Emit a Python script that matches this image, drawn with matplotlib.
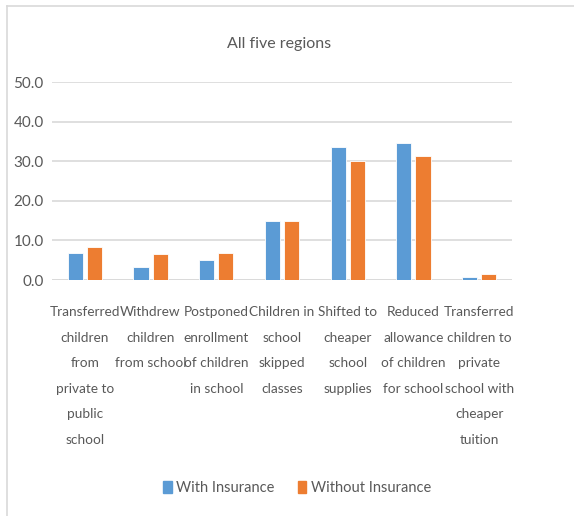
import matplotlib
matplotlib.use("Agg")
import matplotlib.pyplot as plt
import numpy as np
from matplotlib.lines import Line2D

categories = [
    "Transferred\nchildren\nfrom\nprivate to\npublic\nschool",
    "Withdrew\nchildren\nfrom school",
    "Postponed\nenrollment\nof children\nin school",
    "Children in\nschool\nskipped\nclasses",
    "Shifted to\ncheaper\nschool\nsupplies",
    "Reduced\nallowance\nof children\nfor school",
    "Transferred\nchildren to\nprivate\nschool with\ncheaper\ntuition",
]
with_insurance = [6.9, 3.4, 5.0, 15.0, 33.6, 34.5, 0.7]
without_insurance = [8.4, 6.6, 6.9, 15.0, 30.0, 31.2, 1.6]
series_names = ["With Insurance", "Without Insurance"]
y_ticks = [0, 10, 20, 30, 40, 50]

BLUE = "#5B9BD5"
ORANGE = "#ED7D31"
TEXT = "#595959"

plt.rcParams["font.family"] = ["Lato", "DejaVu Sans"]

W, H = 574, 516
fig = plt.figure(figsize=(W / 100, H / 100), dpi=100)
ax = fig.add_axes([52 / W, 1 - 280 / H, 460 / W, 198 / H])

x = np.arange(len(categories))
width = 0.23
gap = 0.03
ax.bar(x - width / 2 - gap, with_insurance, width, color=BLUE,
       edgecolor="white", linewidth=0.6, zorder=3, label=series_names[0])
ax.bar(x + width / 2 + gap, without_insurance, width, color=ORANGE,
       edgecolor="white", linewidth=0.6, zorder=3, label=series_names[1])

ax.set_xlim(-0.5, len(categories) - 0.5)
ax.set_ylim(0, 50)
ax.set_yticks(y_ticks)
ax.set_yticklabels([f"{v:.1f}" for v in y_ticks], fontsize=11, color=TEXT)
ax.set_xticks(x)
ax.set_xticklabels(categories, fontsize=9.8, color=TEXT, linespacing=2.35,
                   va="top")
ax.tick_params(axis="both", length=0)
ax.tick_params(axis="y", pad=6)
ax.tick_params(axis="x", pad=19)
ax.grid(True, axis="y", color="#D9D9D9", linewidth=1.2, zorder=0)
for side in ["top", "right", "left", "bottom"]:
    ax.spines[side].set_visible(False)
ax.axhline(0, color="#D9D9D9", linewidth=1.2, zorder=2)

fig.text(279 / W, 1 - 44 / H, "All five regions", ha="center", va="center",
         fontsize=11.5, color=TEXT)

handles = [plt.Rectangle((0, 0), 1, 1, color=BLUE),
           plt.Rectangle((0, 0), 1, 1, color=ORANGE)]
fig.legend(handles, series_names, loc="center", ncol=2,
           bbox_to_anchor=(297 / W, 1 - 488 / H), frameon=False,
           fontsize=10.5, labelcolor=TEXT, handlelength=0.6,
           handleheight=0.9, handletextpad=0.3, columnspacing=1.6)

# light frame along the top and left edges
fig.add_artist(Line2D([7 / W, 1], [1 - 6 / H, 1 - 6 / H],
                      transform=fig.transFigure, color="#D9D9D9", linewidth=1.2))
fig.add_artist(Line2D([7 / W, 7 / W], [0, 1 - 6 / H],
                      transform=fig.transFigure, color="#D9D9D9", linewidth=1.2))

fig.savefig("out.png", dpi=100)
